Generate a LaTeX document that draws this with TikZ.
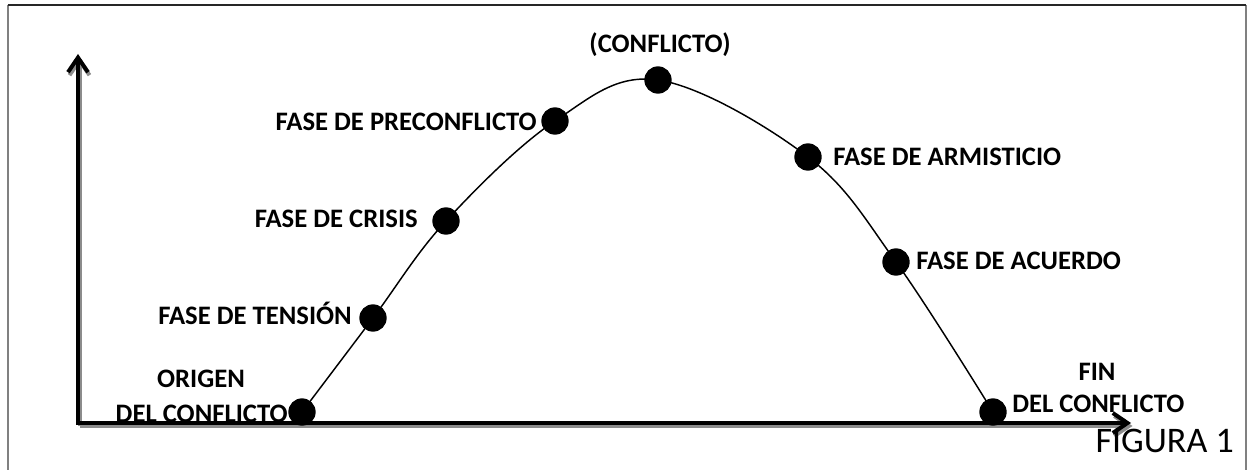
\documentclass[tikz,border=0pt]{standalone}
\usepackage{fontspec}
\setmainfont{Carlito}
\usetikzlibrary{arrows.meta}
\begin{document}
\begin{tikzpicture}[x=0.75pt,y=-0.75pt,
  dot/.style={circle,fill=black,inner sep=0pt,minimum size=20.5pt},
  lbl/.style={font=\fontsize{20}{24}\selectfont\bfseries,inner sep=0pt,text height=12.9pt,text depth=0pt},
  axis/.style={line width=3pt,-{Straight Barb[length=11pt,width=15pt,line width=3pt]}},
  axshadow/.style={axis,draw=black!45},
  frameg/.style={draw=black!50,line width=1.5pt}]
\useasboundingbox (0,0) rectangle (1249,470);
% frame
\draw[frameg] (7.5,470) -- (7.5,5);
\draw[frameg] (1246,5) -- (1246,470);
\draw[line width=1.3pt,black!85] (7.5,5) -- (1246,5);
% axes
\coordinate (org) at (78,423);
\coordinate (ytip) at (78,54);
\coordinate (xtip) at (1131,423);
\draw[axshadow] ([shift={(1.5,3)}]org) -- ([shift={(1.5,3)}]ytip);
\draw[axshadow] ([shift={(1.5,3)}]org) -- ([shift={(1.5,3)}]xtip);
\draw[axis] (org) -- (ytip);
\draw[axis] ([xshift=-1.5pt]org) -- (xtip);
% dots
\node[dot] (o) at (302,412) {};
\node[dot] (t) at (373,318) {};
\node[dot] (c) at (446,221) {};
\node[dot] (p) at (555,121) {};
\node[dot] (k) at (658,80) {};
\node[dot] (a) at (808,157) {};
\node[dot] (u) at (896,262) {};
\node[dot] (f) at (993,412) {};
% curve
\draw[line width=1.1pt] plot[smooth,tension=0.6] coordinates {(o.center) (t.center) (c.center) (p.center) (k.center) (a.center) (u.center) (f.center)};
% labels
\node[lbl] (lk) at (660,44) {(CONFLICTO)};
\node[lbl,anchor=east] (lp) at (537,122) {FASE DE PRECONFLICTO};
\node[lbl,anchor=east] (lc) at (418,219) {FASE DE CRISIS};
\node[lbl,anchor=east] (lt) at (352,316) {FASE DE TENSIÓN};
\node[lbl] (lo1) at (201,379) {ORIGEN};
\node[lbl,anchor=east] (lo2) at (288,414) {DEL CONFLICTO};
\node[lbl,anchor=west] (la) at (833,157) {FASE DE ARMISTICIO};
\node[lbl,anchor=west] (lu) at (916,261) {FASE DE ACUERDO};
\node[lbl] (lf1) at (1097,372) {FIN};
\node[lbl,anchor=west] (lf2) at (1012,404) {DEL CONFLICTO};
\node[font=\fontsize{27}{31}\selectfont,inner sep=0pt,text height=17.4pt,text depth=0pt,anchor=east] (fig) at (1234,441) {FIGURA 1};
\end{tikzpicture}
\end{document}
